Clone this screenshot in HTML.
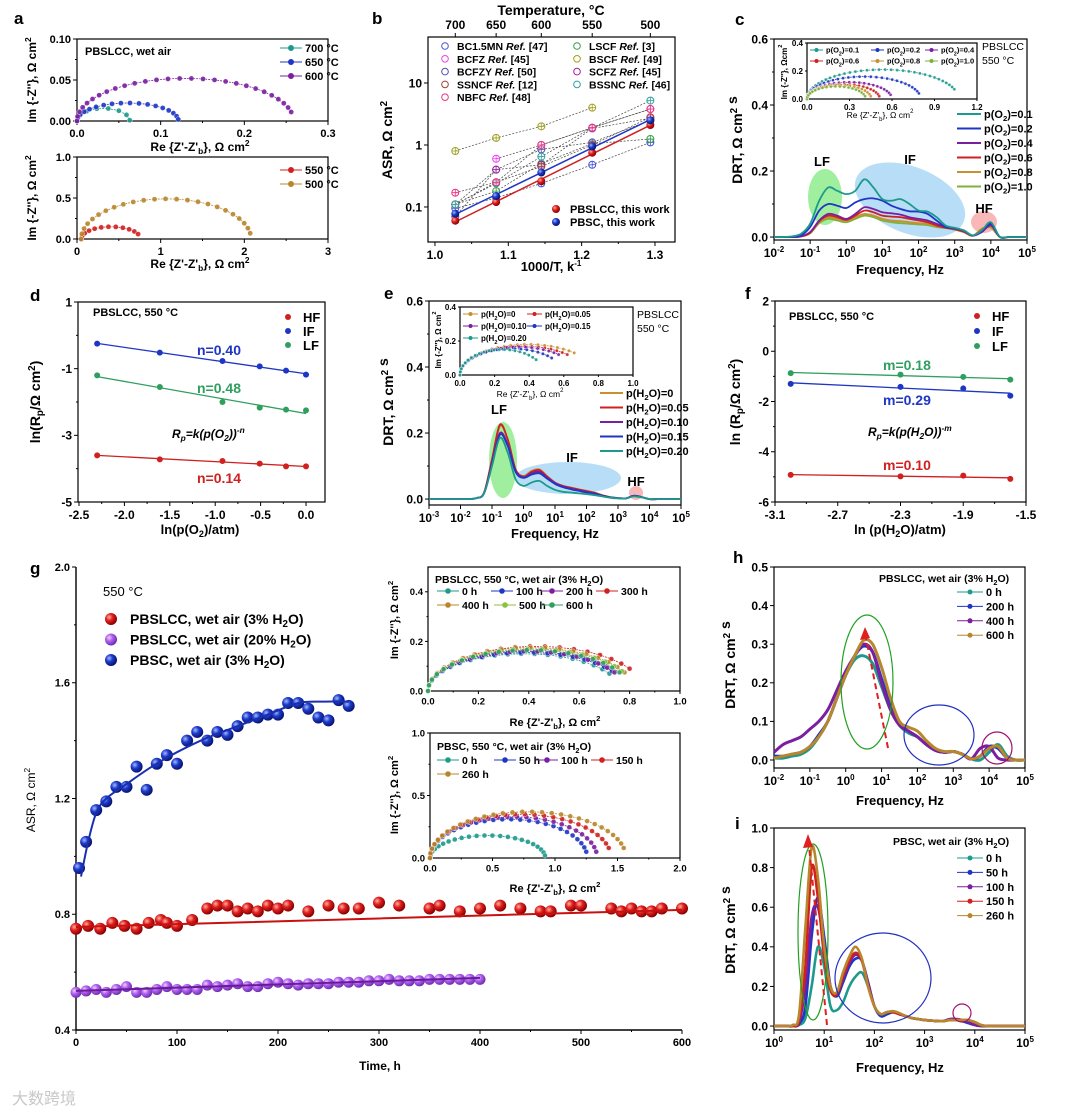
<!DOCTYPE html>
<html><head><meta charset="utf-8"><style>
html,body{margin:0;padding:0;background:#fff;}
svg{display:block;}
</style></head><body>
<svg id="fig" width="1080" height="1115" viewBox="0 0 1080 1115" xmlns="http://www.w3.org/2000/svg">
<defs>
<radialGradient id="gRed" cx="35%" cy="35%" r="65%"><stop offset="0" stop-color="#ffb0a0"/><stop offset="0.45" stop-color="#e02020"/><stop offset="1" stop-color="#8a0000"/></radialGradient>
<radialGradient id="gBlue" cx="35%" cy="35%" r="65%"><stop offset="0" stop-color="#a8b8ff"/><stop offset="0.45" stop-color="#1c3ccc"/><stop offset="1" stop-color="#0a1470"/></radialGradient>
<radialGradient id="gPur" cx="35%" cy="35%" r="65%"><stop offset="0" stop-color="#f0d0ff"/><stop offset="0.45" stop-color="#b060f0"/><stop offset="1" stop-color="#7030b0"/></radialGradient>
</defs>
</svg>
<script>
// ---------------- DATA ----------------
const aTopLabels=['700 °C','650 °C','600 °C'];
const aTopArcs=[[0,0.063,0.0155,0.001],[0,0.121,0.022,0.002],[0,0.256,0.052,0.011]];
const aBotLabels=['550 °C','500 °C'];
const aBotArcs=[[0.05,0.73,0.15,0.06],[0.05,2.07,0.49,0.07]];
const bX=[1.0277,1.0834,1.1450,1.2144,1.2937];
const bTempTicks=[700,650,600,550,500];
const bPBSLCC=[0.06,0.12,0.26,0.75,2.1];
const bPBSC=[0.078,0.15,0.36,0.95,2.5];
const bBC15MN=[0.095,0.14,0.24,0.48,1.1];
const bLSCF=[0.11,0.18,0.5,1.05,1.25];
const bBCFZ=[null,0.6,1.0,1.9,3.8];
const bBSCF=[0.8,1.3,2.0,4.0,null];
const bBCFZY=[0.07,0.4,0.85,1.1,2.5];
const bSCFZ=[0.11,0.4,0.48,1.85,2.7];
const bSSNCF=[0.11,0.25,0.45,1.0,2.8];
const bBSSNC=[0.11,0.24,0.65,1.9,5.2];
const bNBFC=[0.17,0.25,1.0,1.9,3.8];
const cLogF0=-2, cStep=0.25;
const cP01=[0,0,0.002,0.01,0.04,0.11,0.15,0.14,0.13,0.14,0.175,0.15,0.115,0.11,0.115,0.10,0.08,0.077,0.06,0.035,0.028,0.02,0.005,0.02,0.045,0,0,0,0];
const cP02=[0,0,0,0.005,0.03,0.08,0.10,0.095,0.088,0.105,0.115,0.117,0.11,0.095,0.085,0.078,0.077,0.07,0.05,0.03,0.027,0.02,0.005,0.018,0.04,0,0,0,0];
const cP04=[0,0,0,0.002,0.015,0.05,0.07,0.065,0.055,0.07,0.09,0.085,0.075,0.072,0.068,0.06,0.055,0.05,0.04,0.03,0.025,0.018,0.004,0.015,0.035,0,0,0,0];
const cP06=[0,0,0,0.002,0.013,0.048,0.065,0.06,0.052,0.065,0.08,0.075,0.065,0.062,0.06,0.055,0.05,0.045,0.035,0.028,0.024,0.016,0.004,0.02,0.04,0,0,0,0];
const cP08=[0,0,0,0.002,0.012,0.045,0.06,0.055,0.05,0.06,0.07,0.065,0.055,0.05,0.048,0.045,0.042,0.04,0.033,0.028,0.023,0.015,0.004,0.025,0.03,0,0,0,0];
const cP10=[0,0,0,0.002,0.011,0.042,0.055,0.05,0.045,0.055,0.065,0.06,0.05,0.045,0.042,0.04,0.038,0.036,0.03,0.027,0.022,0.015,0.004,0.025,0.028,0,0,0,0];
const cLabels=['0.1','0.2','0.4','0.6','0.8','1.0'];
const cInsetArcs=[[0,1.04,0.21,0.07],[0,0.79,0.16,0.04],[0,0.59,0.12,0.03],[0,0.51,0.105,0.02],[0,0.45,0.1,0.02],[0,0.41,0.09,0.02]];
const dX=[-2.30,-1.61,-0.92,-0.51,-0.22,0];
const dHF=[-3.6,-3.72,-3.77,-3.85,-3.93,-3.93];
const dIF=[-0.25,-0.52,-0.77,-0.93,-1.06,-1.18];
const dLF=[-1.2,-1.55,-2.0,-2.17,-2.23,-2.25];
const eLogF0=-3, eStep=0.25;
const eH0 =[0,0,0,0,0,0,0.003,0.02,0.12,0.22,0.18,0.09,0.07,0.085,0.09,0.07,0.05,0.04,0.035,0.03,0.025,0.02,0.012,0.006,0.003,0.002,0.01,0.006,0,0,0,0,0];
const eH05=[0,0,0,0,0,0,0.003,0.02,0.12,0.225,0.18,0.09,0.068,0.082,0.088,0.068,0.05,0.04,0.034,0.029,0.024,0.019,0.011,0.006,0.003,0.002,0.01,0.006,0,0,0,0,0];
const eH10=[0,0,0,0,0,0,0.003,0.018,0.11,0.2,0.165,0.085,0.066,0.078,0.083,0.065,0.048,0.038,0.032,0.027,0.022,0.017,0.01,0.005,0.003,0.002,0.01,0.006,0,0,0,0,0];
const eH15=[0,0,0,0,0,0,0.003,0.018,0.105,0.195,0.16,0.082,0.064,0.074,0.078,0.062,0.046,0.036,0.03,0.025,0.02,0.016,0.01,0.005,0.003,0.002,0.01,0.006,0,0,0,0,0];
const eH20=[0,0,0,0,0,0,0.003,0.018,0.1,0.185,0.14,0.06,0.04,0.05,0.055,0.04,0.028,0.022,0.02,0.017,0.015,0.012,0.008,0.004,0.002,0.002,0.008,0.005,0,0,0,0,0];
const eLabels=['0','0.05','0.10','0.15','0.20'];
const eInsetArcs=[[0,0.66,0.18,0.13],[0,0.62,0.17,0.12],[0,0.57,0.165,0.12],[0,0.53,0.155,0.10],[0,0.44,0.15,0.09]];
const fX=[-3.0,-2.3,-1.9,-1.6];
const fHF=[-4.92,-4.98,-4.95,-5.08];
const fIF=[-1.3,-1.42,-1.48,-1.77];
const fLF=[-0.87,-0.93,-1.02,-1.13];
const gPBSCt=[3,10,20,30,40,50,60,70,80,90,100,110,120,130,140,150,160,170,180,190,200,210,220,230,240,250,260,270];
const gPBSCv=[0.96,1.05,1.16,1.19,1.24,1.24,1.31,1.23,1.32,1.35,1.32,1.40,1.43,1.40,1.43,1.42,1.45,1.48,1.48,1.49,1.49,1.53,1.53,1.51,1.48,1.47,1.54,1.52];
const gPBSCfitT=[5,12,20,30,50,75,100,130,160,190,220,245,270];
const gPBSCfitV=[0.93,1.05,1.15,1.2,1.25,1.31,1.36,1.41,1.45,1.49,1.53,1.535,1.535];
const gL3t=[0,12,24,36,48,60,72,84,90,100,115,130,140,150,160,170,180,190,200,210,230,250,265,280,300,320,350,360,380,400,420,440,460,470,490,500,530,540,550,560,570,580,600];
const gL3v=[0.75,0.76,0.75,0.77,0.76,0.75,0.77,0.78,0.77,0.76,0.78,0.82,0.83,0.83,0.81,0.82,0.81,0.83,0.82,0.83,0.81,0.83,0.82,0.82,0.84,0.83,0.82,0.83,0.81,0.82,0.83,0.82,0.81,0.81,0.83,0.83,0.82,0.81,0.82,0.81,0.81,0.82,0.82];
const gL3fitT=[0,600];
const gL3fitV=[0.756,0.815];
const gL20t=[0,10,20,30,40,50,60,70,80,90,100,110,120,130,140,150,160,170,180,190,200,210,220,230,240,250,260,270,280,290,300,310,320,330,340,350,360,370,380,390,400];
const gL20v=[0.53,0.535,0.54,0.53,0.54,0.55,0.53,0.53,0.54,0.55,0.54,0.54,0.54,0.555,0.55,0.555,0.56,0.55,0.55,0.56,0.565,0.56,0.555,0.56,0.56,0.56,0.565,0.565,0.565,0.57,0.57,0.575,0.57,0.57,0.57,0.575,0.575,0.575,0.575,0.575,0.575];
const gL20fitT=[0,400];
const gL20fitV=[0.535,0.58];
const gTopLabels=['0 h','100 h','200 h','300 h','400 h','500 h','600 h'];
const gTopArcs=[[0,0.72,0.15,0.07],[0,0.73,0.155,0.08],[0,0.74,0.16,0.075],[0,0.80,0.18,0.09],[0,0.78,0.175,0.075],[0,0.77,0.17,0.08],[0,0.76,0.165,0.075]];
const gBotLabels=['0 h','50 h','100 h','150 h','260 h'];
const gBotArcs=[[0,0.92,0.18,0.02],[0,1.25,0.31,0.05],[0,1.33,0.33,0.05],[0,1.43,0.35,0.08],[0,1.55,0.37,0.08]];
const hLogF0=-2, hStep=0.25;
const h0  =[0.005,0.005,0.01,0.015,0.03,0.06,0.1,0.16,0.22,0.26,0.27,0.25,0.19,0.13,0.09,0.07,0.06,0.04,0.025,0.02,0.022,0.015,0.003,0,0.02,0.04,0.01,0,0];
const h200=[0.01,0.01,0.015,0.02,0.035,0.065,0.1,0.16,0.22,0.27,0.295,0.28,0.21,0.14,0.095,0.075,0.06,0.04,0.025,0.02,0.022,0.015,0.003,0.01,0.035,0.03,0.005,0,0];
const h400=[0.02,0.04,0.05,0.06,0.08,0.1,0.13,0.18,0.23,0.27,0.3,0.28,0.2,0.13,0.09,0.075,0.06,0.04,0.025,0.02,0.022,0.015,0.003,0.03,0.035,0.005,0,0,0];
const h600=[0.005,0.01,0.015,0.02,0.035,0.06,0.1,0.16,0.22,0.27,0.31,0.3,0.24,0.16,0.1,0.085,0.075,0.05,0.03,0.022,0.022,0.015,0.003,0.01,0.03,0.035,0.005,0,0];
const hLabels=['0 h','200 h','400 h','600 h'];
const iLogF0=0, iStep=0.125;
const i0  =[0,0,0,0,0.005,0.04,0.2,0.4,0.3,0.1,0.08,0.12,0.2,0.25,0.27,0.2,0.1,0.05,0.06,0.07,0.06,0.05,0.04,0.035,0.03,0.028,0.025,0.025,0.03,0.03,0.025,0.015,0.005,0,0,0,0,0,0,0,0];
const i50 =[0,0,0,0,0.01,0.1,0.45,0.65,0.45,0.2,0.15,0.22,0.3,0.34,0.33,0.22,0.1,0.05,0.06,0.07,0.06,0.05,0.04,0.035,0.03,0.028,0.025,0.025,0.035,0.035,0.025,0.015,0.005,0,0,0,0,0,0,0,0];
const i100=[0,0,0,0,0.02,0.2,0.55,0.6,0.4,0.2,0.16,0.24,0.32,0.36,0.33,0.22,0.1,0.06,0.07,0.07,0.06,0.05,0.04,0.035,0.03,0.028,0.025,0.025,0.035,0.035,0.03,0.02,0.005,0,0,0,0,0,0,0,0];
const i150=[0,0,0,0,0.03,0.3,0.8,0.65,0.35,0.18,0.16,0.25,0.33,0.37,0.33,0.2,0.1,0.06,0.07,0.07,0.06,0.05,0.04,0.035,0.03,0.028,0.025,0.025,0.03,0.03,0.03,0.03,0.02,0.005,0,0,0,0,0,0,0];
const i260=[0,0,0,0.005,0.06,0.5,0.9,0.75,0.4,0.2,0.17,0.27,0.35,0.4,0.34,0.2,0.1,0.06,0.07,0.075,0.065,0.05,0.04,0.035,0.03,0.028,0.025,0.025,0.03,0.03,0.03,0.03,0.02,0.005,0,0,0,0,0,0,0];
const iLabels=['0 h','50 h','100 h','150 h','260 h'];

// ---------------- HELPERS ----------------
const NS='http://www.w3.org/2000/svg';
const svg=document.getElementById('fig');
const FF='Liberation Sans, Arial, sans-serif';
const C={teal:'#1e9a8c',blue:'#1f36c4',pur:'#7a1fa0',red:'#d02020',org:'#b8862b',grn:'#72b030',grn2:'#2f9f5f'};
function mk(tag,parent){const e=document.createElementNS(NS,tag);(parent||svg).appendChild(e);return e;}
function set(e,o){for(const k in o)e.setAttribute(k,o[k]);return e;}
function txt(g,x,y,s,name,o){
  const t=mk('text',g);
  set(t,Object.assign({x:x,y:y,'font-family':FF,'font-size':12,'font-weight':'bold',fill:'#000'},o||{}));
  t.innerHTML=s;
  
  
  return t;
}
function vtxt(g,x,y,s,name,o){return txt(g,x,y,s,name,Object.assign({'text-anchor':'middle',transform:`rotate(-90 ${x} ${y})`},o||{}));}
function grp(name){const g=mk('g');return g;}
function smooth(p){let d='M'+p[0][0].toFixed(1)+','+p[0][1].toFixed(1);for(let i=0;i<p.length-1;i++){const p0=p[i-1]||p[i],p1=p[i],p2=p[i+1],p3=p[i+2]||p2;const c1=[p1[0]+(p2[0]-p0[0])/6,p1[1]+(p2[1]-p0[1])/6],c2=[p2[0]-(p3[0]-p1[0])/6,p2[1]-(p3[1]-p1[1])/6];d+='C'+c1.map(v=>v.toFixed(1))+' '+c2.map(v=>v.toFixed(1))+' '+p2.map(v=>v.toFixed(1));}return d;}
function arcPts(a,n){const re0=a[0],reEnd=a[1],h=a[2],imEnd=a[3];const te=Math.asin(Math.min(imEnd/h,1));const ce=Math.cos(te);const r=(reEnd-re0)/(1+ce);const c=re0+r;const out=[];for(let i=0;i<n;i++){const th=Math.PI-(Math.PI-te)*i/(n-1);out.push([c+r*Math.cos(th),h*Math.sin(th)]);}return out;}
function sup(n){return `10<tspan dy="-5" font-size="8">${n}</tspan>`;}

function axes(p){
  const g=grp(p.name);
  const fs=p.fs||12;
  const sx=v=>p.L+((p.xlog?Math.log10(v):v)-p.xd[0])/(p.xd[1]-p.xd[0])*(p.R-p.L);
  const sy=v=>p.B-((p.ylog?Math.log10(v):v)-p.yd[0])/(p.yd[1]-p.yd[0])*(p.B-p.T);
  const lx=v=>p.L+(v-p.xd[0])/(p.xd[1]-p.xd[0])*(p.R-p.L);
  const ly=v=>p.B-(v-p.yd[0])/(p.yd[1]-p.yd[0])*(p.B-p.T);
  if(p.box!==false){const r=mk('rect',g);set(r,{x:p.L,y:p.T,width:p.R-p.L,height:p.B-p.T,fill:'none',stroke:'#000','stroke-width':1.2});}
  else{const l=mk('path',g);set(l,{d:`M${p.L},${p.T}V${p.B}H${p.R}`,fill:'none',stroke:'#000','stroke-width':1.4});}
  const tl=p.tl||4;
  (p.xt||[]).forEach((v,i)=>{const x=lx(v);const t=mk('line',g);set(t,{x1:x,x2:x,y1:p.B,y2:p.B+tl,stroke:'#000','stroke-width':1});
    const lab=p.xl?p.xl[i]:String(v);txt(g,x,p.B+tl+fs+1,lab,p.name+'-x-tick-label',{'text-anchor':'middle','font-size':fs});});
  (p.xm||[]).forEach(v=>{const x=lx(v);const t=mk('line',g);set(t,{x1:x,x2:x,y1:p.B,y2:p.B+tl/2,stroke:'#000','stroke-width':1});});
  (p.yt||[]).forEach((v,i)=>{const y=ly(v);const t=mk('line',g);set(t,{x1:p.L-tl,x2:p.L,y1:y,y2:y,stroke:'#000','stroke-width':1});
    const lab=p.yl?p.yl[i]:String(v);txt(g,p.L-tl-2,y+fs*0.36,lab,p.name+'-y-tick-label',{'text-anchor':'end','font-size':fs});});
  (p.ym||[]).forEach(v=>{const y=ly(v);const t=mk('line',g);set(t,{x1:p.L-tl/2,x2:p.L,y1:y,y2:y,stroke:'#000','stroke-width':1});});
  return {sx,sy,g,lx,ly};
}
function nyq(ax,arc,n,col,r,name){
  const g=grp(name);
  const pts=arcPts(arc,n).map(q=>[ax.sx(q[0]),ax.sy(q[1])]);
  const pl=mk('polyline',g);set(pl,{points:pts.map(q=>q.join(',')).join(' '),fill:'none',stroke:col,'stroke-width':0.8,'stroke-dasharray':'2,1'});
  
  
  pts.forEach(q=>{const c=mk('circle',g);set(c,{cx:q[0],cy:q[1],r:r,fill:col,stroke:'#fff','stroke-width':0.4,'fill-opacity':0.9});
    
    });
}
function drt(ax,vals,f0,step,col,w,name){
  const pts=vals.map((v,i)=>[ax.lx(f0+i*step),ax.sy(v)]);
  const p=mk('path',ax.g);set(p,{d:smooth(pts),fill:'none',stroke:col,'stroke-width':w,'stroke-linejoin':'round'});
  
  
}
function legLine(g,x1,x2,y,col,label,name,fs,marker){
  const l=mk('line',g);set(l,{x1:x1,x2:x2,y1:y,y2:y,stroke:col,'stroke-width':marker?1:2});
  
  
  if(marker){const c=mk('circle',g);set(c,{cx:(x1+x2)/2,cy:y,r:marker,fill:col});}
  txt(g,x2+3,y+fs*0.36,label,name,{'font-size':fs});
}
function ell(g,cx,cy,rx,ry,rot,fill,stroke,name){
  const e=mk('ellipse',g);set(e,{cx:cx,cy:cy,rx:rx,ry:ry,transform:`rotate(${rot} ${cx} ${cy})`,fill:fill||'none',stroke:stroke||'none','stroke-width':1.2});
  
  
}
function dot(g,x,y,r,fill,name){const c=mk('circle',g);set(c,{cx:x,cy:y,r:r,fill:fill});
  
  }
function linFit(xs,ys){const n=xs.length;const mx=xs.reduce((a,b)=>a+b)/n,my=ys.reduce((a,b)=>a+b)/n;let sxy=0,sxx=0;for(let i=0;i<n;i++){sxy+=(xs[i]-mx)*(ys[i]-my);sxx+=(xs[i]-mx)**2;}const k=sxy/sxx;return x=>my+k*(x-mx);}
const O2='p(O<tspan dy="3" font-size="70%">2</tspan><tspan dy="-3">)</tspan>';
function h2o(n){return `p(H<tspan dy="3" font-size="70%">2</tspan><tspan dy="-3">O)=${n}</tspan>`;}
const CM2='cm<tspan dy="-5" font-size="70%">2</tspan>';
const ZB="Re {Z'-Z'<tspan dy='3' font-size='70%'>b</tspan><tspan dy='-3'>}, Ω </tspan>"+CM2;

[['a',14,24],['b',372,24],['c',735,25],['d',30,301],['e',384,299],['f',745,299],['g',30,574],['h',733,563],['i',735,829]].forEach(q=>{
  txt(svg,q[1],q[2],q[0],'panel-label-'+q[0],{'font-size':17});
});

// ---------------- PANEL A ----------------
(function(){
  const cols=[C.teal,C.blue,C.pur];
  const ax=axes({name:'panel-a-top',L:77,R:328,T:39,B:121,xd:[0,0.3],yd:[0,0.1],xt:[0,0.1,0.2,0.3],xl:['0.0','0.1','0.2','0.3'],yt:[0,0.05,0.1],yl:['0.00','0.05','0.10'],xm:[0.05,0.15,0.25],ym:[0.025,0.075],fs:11});
  aTopArcs.forEach((a,i)=>nyq(ax,a,[8,18,28][i],cols[i],2.6,'nyquist-a-'+i));
  txt(ax.g,85,55,'PBSLCC, wet air','panel-a-annotation',{'font-size':11});
  aTopLabels.forEach((s,i)=>legLine(ax.g,280,302,48+i*14,cols[i],s,'legend-entry-a-'+i,11,3));
  vtxt(ax.g,36,80,"Im {-Z''}, Ω "+CM2,'y-axis-title-a-top',{'font-size':12});
  txt(ax.g,200,151,ZB,'x-axis-title-a-top',{'text-anchor':'middle','font-size':12});
  const bx=axes({name:'panel-a-bottom',L:77,R:328,T:157,B:239,xd:[0,3],yd:[0,1],xt:[0,1,2,3],yt:[0,0.5,1],yl:['0.0','0.5','1.0'],xm:[0.5,1.5,2.5],ym:[0.25,0.75],fs:11});
  const c2=[C.red,C.org];
  aBotArcs.forEach((a,i)=>nyq(bx,a,[12,24][i],c2[i],2.6,'nyquist-a-b-'+i));
  aBotLabels.forEach((s,i)=>legLine(bx.g,280,302,170+i*14,c2[i],s,'legend-entry-a-b-'+i,11,3));
  vtxt(bx.g,36,198,"Im {-Z''}, Ω "+CM2,'y-axis-title-a-bottom',{'font-size':12});
  txt(bx.g,200,268,ZB,'x-axis-title-a-bottom',{'text-anchor':'middle','font-size':12});
})();

// ---------------- PANEL B ----------------
(function(){
  const ax=axes({name:'panel-b',L:428,R:675,T:37,B:242,xd:[0.9905,1.3273],yd:[-1.565,1.742],ylog:true,xt:[1.0,1.1,1.2,1.3],xl:['1.0','1.1','1.2','1.3'],xm:[1.05,1.15,1.25],yt:[-1,0,1],yl:['0.1','1','10'],fs:12});
  bTempTicks.forEach((T,i)=>{const x=ax.sx(bX[i]);const t=mk('line',ax.g);set(t,{x1:x,x2:x,y1:37,y2:33,stroke:'#000'});txt(ax.g,x,29,String(T),'top-x-tick-label',{'text-anchor':'middle','font-size':12});});
  txt(ax.g,551,15,'Temperature, °C','top-axis-title-b',{'text-anchor':'middle','font-size':14});
  txt(ax.g,551,271,'1000/T, k<tspan dy="-5" font-size="8">-1</tspan>','x-axis-title-b',{'text-anchor':'middle','font-size':13});
  vtxt(ax.g,392,140,'ASR, Ω '+CM2,'y-axis-title-b',{'font-size':14});
  const refs=[[bBC15MN,'#4455dd','BC1.5MN'],[bLSCF,'#30a040','LSCF'],[bBCFZ,'#f040f0','BCFZ'],[bBSCF,'#a0a020','BSCF'],[bBCFZY,'#5050b0','BCFZY'],[bSCFZ,'#a020a0','SCFZ'],[bSSNCF,'#a04030','SSNCF'],[bBSSNC,'#30a0a0','BSSNC'],[bNBFC,'#f03080','NBFC']];
  refs.forEach((r,k)=>{
    const pts=[];r[0].forEach((v,i)=>{if(v!==null)pts.push([ax.sx(bX[i]),ax.sy(v)]);});
    const pl=mk('polyline',ax.g);set(pl,{points:pts.map(q=>q.join(',')).join(' '),fill:'none',stroke:'#444','stroke-width':0.7,'stroke-dasharray':'2,1.5'});
    
    
    pts.forEach(q=>{const c=mk('circle',ax.g);set(c,{cx:q[0],cy:q[1],r:3.5,fill:'#fff','fill-opacity':0.4,stroke:r[1],'stroke-width':1});
      
      
      const cr=mk('path',ax.g);set(cr,{d:`M${q[0]-3.5},${q[1]}h7M${q[0]},${q[1]-3.5}v7`,stroke:r[1],'stroke-width':0.8});});
  });
  [[bPBSLCC,C.red,'url(#gRed)','pbslcc'],[bPBSC,C.blue,'url(#gBlue)','pbsc']].forEach(s=>{
    const f=linFit(bX,s[0].map(Math.log10));
    const l=mk('line',ax.g);set(l,{x1:ax.sx(bX[0]),y1:ax.ly(f(bX[0])),x2:ax.sx(bX[4]),y2:ax.ly(f(bX[4])),stroke:s[1],'stroke-width':1.5});
    
    
    s[0].forEach((v,i)=>dot(ax.g,ax.sx(bX[i]),ax.sy(v),4,s[2],'asr-point-'+s[3]));
  });
  const leg=[['BC1.5MN','[47]'],['LSCF','[3]'],['BCFZ','[45]'],['BSCF','[49]'],['BCFZY','[50]'],['SCFZ','[45]'],['SSNCF','[12]'],['BSSNC','[46]'],['NBFC','[48]']];
  leg.forEach((e,k)=>{const col=k%2,row=Math.floor(k/2);const x=col?577:445,y=47+row*12.8;const r=refs[k];
    const c=mk('circle',ax.g);set(c,{cx:x,cy:y-1,r:3.3,fill:'none',stroke:r[1]});
    txt(ax.g,x+12,y+3,`${e[0]} <tspan font-style="italic">Ref.</tspan> ${e[1]}`,'legend-entry-b-'+e[0],{'font-size':10.5});});
  dot(ax.g,556,209,4,'url(#gRed)','legend-marker-b-pbslcc');
  txt(ax.g,570,213,'PBSLCC, this work','legend-entry-b-pbslcc',{'font-size':11});
  dot(ax.g,556,222,4,'url(#gBlue)','legend-marker-b-pbsc');
  txt(ax.g,570,226,'PBSC, this work','legend-entry-b-pbsc',{'font-size':11});
})();

// ---------------- PANEL C ----------------
(function(){
  const ax=axes({name:'panel-c',L:774,R:1027,T:39,B:240,xd:[-2,5],yd:[-0.009,0.6],xt:[-2,-1,0,1,2,3,4,5],xl:[-2,-1,0,1,2,3,4,5].map(sup),yt:[0,0.2,0.4,0.6],yl:['0.0','0.2','0.4','0.6'],ym:[0.1,0.3,0.5],fs:12});
  ell(ax.g,825,197,17,28,0,'#9fef9f',null,'lf-region-c');
  ell(ax.g,910,200,58,33,22,'#b7def6',null,'if-region-c');
  ell(ax.g,984,222,13,11,0,'#f8b8b8',null,'hf-region-c');
  txt(ax.g,822,166,'LF','lf-label-c',{'text-anchor':'middle','font-size':13});
  txt(ax.g,910,164,'IF','if-label-c',{'text-anchor':'middle','font-size':13});
  txt(ax.g,984,213,'HF','hf-label-c',{'text-anchor':'middle','font-size':13});
  const ser=[cP01,cP02,cP04,cP06,cP08,cP10],cols=[C.teal,C.blue,C.pur,C.red,'#c8902f','#7fb03a'];
  ser.slice().reverse().forEach((s,k)=>{const i=5-k;drt(ax,s,cLogF0,cStep,cols[i],1.8,'drt-curve-c-'+cLabels[i]);});
  cLabels.forEach((s,i)=>legLine(ax.g,957,981,114+i*14.5,cols[i],O2+'='+s,'legend-entry-c-'+s,11));
  txt(ax.g,982,50,'PBSLCC','panel-c-sample',{'font-size':10.5,'font-weight':'normal'});
  txt(ax.g,982,64,'550 °C','panel-c-temp',{'font-size':10.5,'font-weight':'normal'});
  vtxt(ax.g,742,140,'DRT, Ω '+CM2+' s','y-axis-title-c',{'font-size':14});
  txt(ax.g,900,274,'Frequency, Hz','x-axis-title-c',{'text-anchor':'middle','font-size':13});
  const ix=axes({name:'panel-c-inset',L:807,R:977,T:43,B:99,xd:[0,1.2],yd:[0,0.4],xt:[0,0.3,0.6,0.9,1.2],xl:['0.0','0.3','0.6','0.9','1.2'],yt:[0,0.2,0.4],yl:['0.0','0.2','0.4'],fs:8,tl:2});
  cInsetArcs.forEach((a,i)=>nyq(ix,a,Math.round(10+a[1]*25),cols[i],1.6,'nyquist-c-'+cLabels[i]));
  const lx=[810,871,925];
  cLabels.forEach((s,i)=>legLine(ix.g,lx[i%3],lx[i%3]+13,50+Math.floor(i/3)*11,cols[i],O2+'='+s,'legend-entry-c-inset-'+s,7.5,2));
  txt(ix.g,880,118,ZB,'x-axis-title-c-inset',{'text-anchor':'middle','font-size':8.5,'font-weight':'normal'});
  vtxt(ix.g,787,72,"Im {-Z''}, Ω"+CM2,'y-axis-title-c-inset',{'font-size':8});
})();

// ---------------- PANEL D ----------------
(function(){
  const ax=axes({name:'panel-d',L:78,R:325,T:302,B:502,xd:[-2.511,0.209],yd:[-5,1],xt:[-2.5,-2,-1.5,-1,-0.5,0],xl:['-2.5','-2.0','-1.5','-1.0','-0.5','0.0'],xm:[-2.25,-1.75,-1.25,-0.75,-0.25],yt:[-5,-3,-1,1],ym:[-4,-2,0],fs:12});
  [[dHF,C.red,'hf'],[dIF,C.blue,'if'],[dLF,C.grn2,'lf']].forEach(s=>{
    const f=linFit(dX,s[0]);
    const l=mk('line',ax.g);set(l,{x1:ax.sx(dX[0]),y1:ax.sy(f(dX[0])),x2:ax.sx(dX[5]),y2:ax.sy(f(dX[5])),stroke:s[1],'stroke-width':1.3});
    
    
    s[0].forEach((v,i)=>dot(ax.g,ax.sx(dX[i]),ax.sy(v),3,s[1],'point-d-'+s[2]));
  });
  txt(ax.g,93,316,'PBSLCC, 550 °C','panel-d-annotation',{'font-size':11});
  [['HF',C.red],['IF',C.blue],['LF',C.grn2]].forEach((e,i)=>{dot(ax.g,288,317+i*14,3,e[1],'legend-marker-d');txt(ax.g,303,322+i*14,e[0],'legend-entry-d-'+e[0],{'font-size':13});});
  txt(ax.g,197,355,'n=0.40','slope-label-d-if',{'font-size':14,fill:C.blue});
  txt(ax.g,197,393,'n=0.48','slope-label-d-lf',{'font-size':14,fill:C.grn2});
  txt(ax.g,172,438,'R<tspan dy="3" font-size="70%">p</tspan><tspan dy="-3">=k(p(O</tspan><tspan dy="3" font-size="70%">2</tspan><tspan dy="-3">))</tspan><tspan dy="-5" font-size="70%">-n</tspan>','equation-d',{'font-size':12,'font-style':'italic'});
  txt(ax.g,197,483,'n=0.14','slope-label-d-hf',{'font-size':14,fill:C.red});
  vtxt(ax.g,40,402,'ln(R<tspan dy="3" font-size="70%">p</tspan><tspan dy="-3">/Ω cm</tspan><tspan dy="-5" font-size="70%">2</tspan><tspan dy="5">)</tspan>','y-axis-title-d',{'font-size':14});
  txt(ax.g,200,534,'ln(p(O<tspan dy="3" font-size="70%">2</tspan><tspan dy="-3">)/atm)</tspan>','x-axis-title-d',{'text-anchor':'middle','font-size':13});
})();

// ---------------- PANEL E ----------------
(function(){
  const ax=axes({name:'panel-e',L:429,R:681,T:301,B:505,xd:[-3,5],yd:[-0.018,0.6],xt:[-3,-2,-1,0,1,2,3,4,5],xl:[-3,-2,-1,0,1,2,3,4,5].map(sup),yt:[0,0.2,0.4,0.6],yl:['0.0','0.2','0.4','0.6'],ym:[0.1,0.3,0.5],fs:12});
  ell(ax.g,503,460,14,38,0,'#9fef9f',null,'lf-region-e');
  ell(ax.g,568,478,53,16,0,'#b7def6',null,'if-region-e');
  ell(ax.g,636,493,7,7,0,'#f8b8b8',null,'hf-region-e');
  txt(ax.g,499,414,'LF','lf-label-e',{'text-anchor':'middle','font-size':13});
  txt(ax.g,572,462,'IF','if-label-e',{'text-anchor':'middle','font-size':13});
  txt(ax.g,636,486,'HF','hf-label-e',{'text-anchor':'middle','font-size':13});
  const ser=[eH0,eH05,eH10,eH15,eH20],cols=['#c8902f',C.red,C.pur,C.blue,C.teal];
  ser.forEach((s,i)=>drt(ax,s,eLogF0,eStep,cols[i],1.8,'drt-curve-e-'+eLabels[i]));
  eLabels.forEach((s,i)=>legLine(ax.g,600,623,393+i*14.5,cols[i],h2o(s),'legend-entry-e-'+s,11));
  txt(ax.g,637,318,'PBSLCC','panel-e-sample',{'font-size':10.5,'font-weight':'normal'});
  txt(ax.g,637,332,'550 °C','panel-e-temp',{'font-size':10.5,'font-weight':'normal'});
  vtxt(ax.g,393,402,'DRT, Ω '+CM2+' s','y-axis-title-e',{'font-size':14});
  txt(ax.g,555,538,'Frequency, Hz','x-axis-title-e',{'text-anchor':'middle','font-size':13});
  const ix=axes({name:'panel-e-inset',L:460,R:633,T:307,B:375,xd:[0,1],yd:[0,0.4],xt:[0,0.2,0.4,0.6,0.8,1],xl:['0.0','0.2','0.4','0.6','0.8','1.0'],yt:[0,0.2,0.4],yl:['0.0','0.2','0.4'],fs:8,tl:2});
  eInsetArcs.forEach((a,i)=>nyq(ix,a,Math.round(14+a[1]*15),cols[i],1.7,'nyquist-e-'+eLabels[i]));
  eLabels.forEach((s,i)=>legLine(ix.g,i%2?527:463,(i%2?527:463)+15,314+Math.floor(i/2)*12,cols[i],h2o(s),'legend-entry-e-inset-'+s,8,2));
  txt(ix.g,530,397,ZB,'x-axis-title-e-inset',{'text-anchor':'middle','font-size':8.5,'font-weight':'normal'});
  vtxt(ix.g,441,340,"Im {-Z''}, Ω "+CM2,'y-axis-title-e-inset',{'font-size':8});
})();

// ---------------- PANEL F ----------------
(function(){
  const ax=axes({name:'panel-f',L:775,R:1026,T:301,B:502,xd:[-3.1,-1.5],yd:[-6,2],xt:[-3.1,-2.7,-2.3,-1.9,-1.5],xm:[-2.9,-2.5,-2.1,-1.7],yt:[-6,-4,-2,0,2],ym:[-5,-3,-1,1],fs:12});
  [[fHF,C.red,'hf'],[fIF,C.blue,'if'],[fLF,C.grn2,'lf']].forEach(s=>{
    const f=linFit(fX,s[0]);
    const l=mk('line',ax.g);set(l,{x1:ax.sx(fX[0]),y1:ax.sy(f(fX[0])),x2:ax.sx(fX[3]),y2:ax.sy(f(fX[3])),stroke:s[1],'stroke-width':1.3});
    
    
    s[0].forEach((v,i)=>dot(ax.g,ax.sx(fX[i]),ax.sy(v),3,s[1],'point-f-'+s[2]));
  });
  txt(ax.g,789,320,'PBSLCC, 550 °C','panel-f-annotation',{'font-size':11});
  [['HF',C.red],['IF',C.blue],['LF',C.grn2]].forEach((e,i)=>{dot(ax.g,977,316+i*15,3,e[1],'legend-marker-f');txt(ax.g,992,321+i*15,e[0],'legend-entry-f-'+e[0],{'font-size':13});});
  txt(ax.g,883,370,'m=0.18','slope-label-f-lf',{'font-size':14,fill:C.grn2});
  txt(ax.g,883,405,'m=0.29','slope-label-f-if',{'font-size':14,fill:C.blue});
  txt(ax.g,868,436,'R<tspan dy="3" font-size="70%">p</tspan><tspan dy="-3">=k(p(H</tspan><tspan dy="3" font-size="70%">2</tspan><tspan dy="-3">O))</tspan><tspan dy="-5" font-size="70%">-m</tspan>','equation-f',{'font-size':12,'font-style':'italic'});
  txt(ax.g,883,470,'m=0.10','slope-label-f-hf',{'font-size':14,fill:C.red});
  vtxt(ax.g,740,402,'ln (R<tspan dy="3" font-size="70%">p</tspan><tspan dy="-3">/Ω cm</tspan><tspan dy="-5" font-size="70%">2</tspan><tspan dy="5">)</tspan>','y-axis-title-f',{'font-size':14});
  txt(ax.g,900,534,'ln (p(H<tspan dy="3" font-size="70%">2</tspan><tspan dy="-3">O)/atm)</tspan>','x-axis-title-f',{'text-anchor':'middle','font-size':13});
})();

// ---------------- PANEL G ----------------
(function(){
  const ax=axes({name:'panel-g',L:76,R:682,T:567,B:1030,xd:[0,600],yd:[0.4,2.0],box:false,xt:[0,100,200,300,400,500,600],xm:[50,150,250,350,450,550],yt:[0.4,0.8,1.2,1.6,2.0],yl:['0.4','0.8','1.2','1.6','2.0'],ym:[0.6,1.0,1.4,1.8],fs:11});
  function fit(t,v,col,name){const p=mk('path',ax.g);set(p,{d:smooth(t.map((x,i)=>[ax.sx(x),ax.sy(v[i])])),fill:'none',stroke:col,'stroke-width':2});
    
    }
  gL20t.forEach((t,i)=>dot(ax.g,ax.sx(t),ax.sy(gL20v[i]),5.5,'url(#gPur)','asr-point-pbslcc-20'));
  fit(gL20fitT,gL20fitV,'#6a1b9a','fit-line-pbslcc-20');
  gL3t.forEach((t,i)=>dot(ax.g,ax.sx(t),ax.sy(gL3v[i]),6,'url(#gRed)','asr-point-pbslcc-3'));
  fit(gL3fitT,gL3fitV,'#c81010','fit-line-pbslcc-3');
  gPBSCt.forEach((t,i)=>dot(ax.g,ax.sx(t),ax.sy(gPBSCv[i]),6,'url(#gBlue)','asr-point-pbsc'));
  fit(gPBSCfitT,gPBSCfitV,'#1a2fb0','fit-line-pbsc');
  txt(ax.g,103,596,'550 °C','panel-g-temp',{'font-size':13,'font-weight':'normal'});
  const H='H<tspan dy="3" font-size="70%">2</tspan><tspan dy="-3">O)</tspan>';
  [['url(#gRed)','PBSLCC, wet air (3% '+H],['url(#gPur)','PBSLCC, wet air (20% '+H],['url(#gBlue)','PBSC, wet air (3% '+H]].forEach((e,i)=>{
    dot(ax.g,111,619+i*20.5,6,e[0],'legend-marker-g-'+i);txt(ax.g,130,624+i*20.5,e[1],'legend-entry-g-'+i,{'font-size':14});});
  vtxt(ax.g,35,800,'ASR, Ω '+CM2,'y-axis-title-g',{'font-size':12,'font-weight':'normal'});
  txt(ax.g,380,1070,'Time, h','x-axis-title-g',{'text-anchor':'middle','font-size':12});
  const cols=[C.teal,C.blue,C.pur,C.red,C.org,'#8cc040',C.grn2];
  const ix=axes({name:'panel-g-inset-top',L:428,R:680,T:567,B:691,xd:[0,1],yd:[0,0.5],xt:[0,0.2,0.4,0.6,0.8,1],xl:['0.0','0.2','0.4','0.6','0.8','1.0'],xm:[0.1,0.3,0.5,0.7,0.9],yt:[0,0.2,0.4],yl:['0.0','0.2','0.4'],ym:[0.1,0.3],fs:9.5,tl:3});
  gTopArcs.forEach((a,i)=>nyq(ix,a,20,cols[i],2.5,'nyquist-g-top-'+gTopLabels[i]));
  txt(ix.g,435,583,'PBSLCC, 550 °C, wet air (3% '+H,'panel-g-inset-top-title',{'font-size':10.5});
  const posT=[[437,591],[491,591],[541,591],[596,591],[437,605],[494,605],[541,605]];
  gTopLabels.forEach((s,i)=>legLine(ix.g,posT[i][0],posT[i][0]+22,posT[i][1],cols[i],s,'legend-entry-g-top-'+s,10.5,2.8));
  txt(ix.g,555,726,ZB,'x-axis-title-g-inset-top',{'text-anchor':'middle','font-size':11});
  vtxt(ix.g,398,620,"Im {-Z''}, Ω "+CM2,'y-axis-title-g-inset-top',{'font-size':11});
  const cols2=[C.teal,C.blue,C.pur,C.red,C.org];
  const jx=axes({name:'panel-g-inset-bottom',L:430,R:680,T:733,B:858,xd:[0,2],yd:[0,1],xt:[0,0.5,1,1.5,2],xl:['0.0','0.5','1.0','1.5','2.0'],xm:[0.25,0.75,1.25,1.75],yt:[0,0.5,1],yl:['0.0','0.5','1.0'],ym:[0.25,0.75],fs:9.5,tl:3});
  gBotArcs.forEach((a,i)=>nyq(jx,a,Math.round(14+a[1]*10),cols2[i],2.5,'nyquist-g-bottom-'+gBotLabels[i]));
  txt(jx.g,437,750,'PBSC, 550 °C, wet air (3% '+H,'panel-g-inset-bottom-title',{'font-size':10.5});
  const posB=[[437,760],[494,760],[536,760],[591,760],[437,774]];
  gBotLabels.forEach((s,i)=>legLine(jx.g,posB[i][0],posB[i][0]+22,posB[i][1],cols2[i],s,'legend-entry-g-bottom-'+s,10.5,2.8));
  txt(jx.g,555,892,ZB,'x-axis-title-g-inset-bottom',{'text-anchor':'middle','font-size':11});
  vtxt(jx.g,398,795,"Im {-Z''}, Ω "+CM2,'y-axis-title-g-inset-bottom',{'font-size':11});
})();

// ---------------- PANEL H ----------------
(function(){
  const ax=axes({name:'panel-h',L:774,R:1025,T:567,B:768,xd:[-2,5],yd:[-0.0207,0.5],xt:[-2,-1,0,1,2,3,4,5],xl:[-2,-1,0,1,2,3,4,5].map(sup),yt:[0,0.1,0.2,0.3,0.4,0.5],yl:['0.0','0.1','0.2','0.3','0.4','0.5'],fs:12});
  const ser=[h0,h200,h400,h600],cols=[C.teal,C.blue,C.pur,C.org];
  ser.forEach((s,i)=>drt(ax,s,hLogF0,hStep,cols[i],3,'drt-curve-h-'+hLabels[i]));
  ell(ax.g,867,682,26,67,0,null,'#20a020','lf-ellipse-h');
  ell(ax.g,939,735,35,30,0,null,'#2030c0','if-ellipse-h');
  ell(ax.g,997,748,15,16,0,null,'#a01070','hf-ellipse-h');
  const ar=mk('path',ax.g);set(ar,{d:'M888,748 L866,638',stroke:'#e02020','stroke-width':2,'stroke-dasharray':'6,4',fill:'none'});
  
  
  const ah=mk('path',ax.g);set(ah,{d:'M865,627 L860,640 L870,638 Z',fill:'#e02020'});
  txt(ax.g,879,582,'PBSLCC, wet air (3% H<tspan dy="3" font-size="70%">2</tspan><tspan dy="-3">O)</tspan>','panel-h-title',{'font-size':10.5});
  hLabels.forEach((s,i)=>legLine(ax.g,957,983,592+i*14.4,cols[i],s,'legend-entry-h-'+s,11,2.5));
  vtxt(ax.g,735,665,'DRT, Ω '+CM2+' s','y-axis-title-h',{'font-size':14});
  txt(ax.g,900,805,'Frequency, Hz','x-axis-title-h',{'text-anchor':'middle','font-size':13});
})();

// ---------------- PANEL I ----------------
(function(){
  const ax=axes({name:'panel-i',L:774,R:1025,T:828,B:1030,xd:[0,5],yd:[-0.02,1.0],xt:[0,1,2,3,4,5],xl:[0,1,2,3,4,5].map(sup),yt:[0,0.2,0.4,0.6,0.8,1.0],yl:['0.0','0.2','0.4','0.6','0.8','1.0'],fs:12});
  const ser=[i0,i50,i100,i150,i260],cols=[C.teal,C.blue,C.pur,C.red,C.org];
  ser.forEach((s,i)=>drt(ax,s,iLogF0,iStep,cols[i],2.6,'drt-curve-i-'+iLabels[i]));
  ell(ax.g,813,932,15,88,0,null,'#20a020','lf-ellipse-i');
  ell(ax.g,883,978,48,45,0,null,'#2030c0','if-ellipse-i');
  ell(ax.g,962,1013,9,9,0,null,'#a01070','hf-ellipse-i');
  const ar=mk('path',ax.g);set(ar,{d:'M827,1025 L809,846',stroke:'#e02020','stroke-width':2,'stroke-dasharray':'6,4',fill:'none'});
  
  
  const ah=mk('path',ax.g);set(ah,{d:'M808,834 L803,848 L813,847 Z',fill:'#e02020'});
  txt(ax.g,893,845,'PBSC, wet air (3% H<tspan dy="3" font-size="70%">2</tspan><tspan dy="-3">O)</tspan>','panel-i-title',{'font-size':10.5});
  iLabels.forEach((s,i)=>legLine(ax.g,957,983,858+i*14.4,cols[i],s,'legend-entry-i-'+s,11,2.5));
  vtxt(ax.g,735,930,'DRT, Ω '+CM2+' s','y-axis-title-i',{'font-size':14});
  txt(ax.g,900,1072,'Frequency, Hz','x-axis-title-i',{'text-anchor':'middle','font-size':13});
})();

txt(svg,12,1104,'大数跨境','watermark',{'font-family':'Liberation Sans, Noto Sans CJK SC, sans-serif','font-size':16,fill:'#c8c8c8','font-weight':'normal'});
</script>
</body></html>
